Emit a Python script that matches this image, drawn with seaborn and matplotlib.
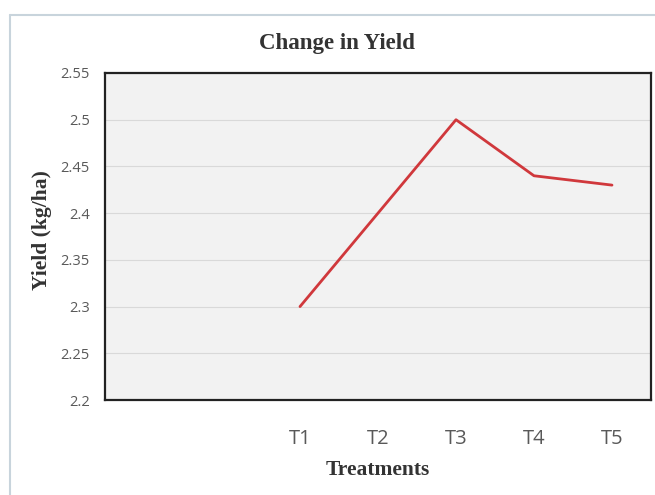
import numpy as np
import pandas as pd
import matplotlib
matplotlib.use("Agg")
import matplotlib.pyplot as plt
import seaborn as sns
from matplotlib.lines import Line2D

categories = ["", " ", "T1", "T2", "T3", "T4", "T5"]
yields = [np.nan, np.nan, 2.30, 2.40, 2.50, 2.44, 2.43]
y_ticks = [2.2, 2.25, 2.3, 2.35, 2.4, 2.45, 2.5, 2.55]
y_tick_labels = ["2.2", "2.25", "2.3", "2.35", "2.4", "2.45", "2.5", "2.55"]

sns.set_style("white")
plt.rcParams["font.family"] = ["Liberation Sans", "DejaVu Sans"]

df = pd.DataFrame({"pos": np.arange(len(categories)), "Yield": yields})

fig = plt.figure(figsize=(6.55, 4.95), dpi=100)
fig.patch.set_facecolor("white")
ax = fig.add_axes([105/655, 1-400/495, (651-105)/655, (400-73)/495])
ax.set_facecolor("#f2f2f2")

sns.lineplot(data=df, x="pos", y="Yield", ax=ax, color="#d0383c", linewidth=2.0)

ax.set_xlim(-0.5, len(categories) - 0.5)
ax.set_ylim(2.2, 2.55)
ax.set_xticks(np.arange(len(categories)))
ax.set_xticklabels(categories, fontfamily="Open Sans", fontsize=14.5, color="#595959")
ax.set_yticks(y_ticks)
ax.set_yticklabels(y_tick_labels, fontfamily="Open Sans", fontsize=10.5, color="#595959")
ax.tick_params(axis="both", length=0)
ax.tick_params(axis="x", pad=21)
ax.tick_params(axis="y", pad=11)
ax.yaxis.grid(True, color="#d9d9d9", linewidth=0.8)
ax.set_axisbelow(True)
for s in ax.spines.values():
    s.set_color("#222222")
    s.set_linewidth(1.6)

ax.set_xlabel("Treatments", fontfamily="Liberation Serif", fontweight="bold", fontsize=15.5, color="#333333", labelpad=8)
ax.set_ylabel("Yield (kg/ha)", fontfamily="Liberation Serif", fontweight="bold", fontsize=15.5, color="#333333")
ax.yaxis.set_label_coords(-0.097, 0.52)
fig.text(0.515, 1-43/495, "Change in Yield", fontfamily="Liberation Serif", fontweight="bold", fontsize=16.5, color="#333333", ha="center", va="center")

# outer frame lines
fig.add_artist(Line2D([10/655, 10/655], [0, 1-15/495], transform=fig.transFigure, color="#c8d4dc", linewidth=1.5))
fig.add_artist(Line2D([10/655, 1], [1-15/495, 1-15/495], transform=fig.transFigure, color="#c8d4dc", linewidth=1.5))

fig.savefig("out.png", dpi=100)
